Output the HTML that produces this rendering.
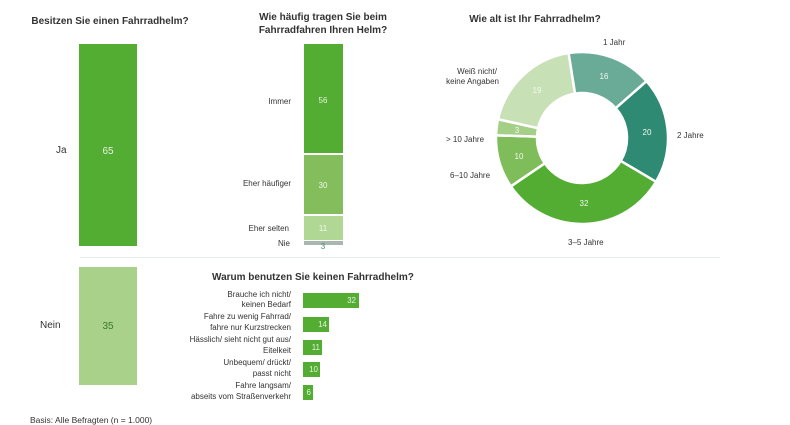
<!DOCTYPE html>
<html><head><meta charset="utf-8"><style>
body{margin:0;background:#fff}
svg{display:block;font-family:"Liberation Sans","DejaVu Sans",sans-serif}
</style></head><body>
<svg width="790" height="425" viewBox="0 0 790 425" xmlns="http://www.w3.org/2000/svg">
<g font-size="10" fill="#333" font-weight="bold">
<text x="110" y="24" text-anchor="middle">Besitzen Sie einen Fahrradhelm?</text>
<text x="323" y="20" text-anchor="middle">Wie häufig tragen Sie beim</text>
<text x="323" y="33" text-anchor="middle">Fahrradfahren Ihren Helm?</text>
<text x="535" y="22" text-anchor="middle">Wie alt ist Ihr Fahrradhelm?</text>
<text x="212" y="280">Warum benutzen Sie keinen Fahrradhelm?</text>
</g>
<line x1="80" y1="257.5" x2="720" y2="257.5" stroke="#e3efe8" stroke-width="1"/>
<rect x="79" y="44" width="58" height="202" fill="#52ad32"/>
<rect x="79" y="267" width="58" height="118" fill="#a9d18a"/>
<g font-size="10" fill="#333">
<text x="56" y="153">Ja</text>
<text x="40" y="328">Nein</text>
<text x="30" y="423" font-size="8.5">Basis: Alle Befragten (n = 1.000)</text>
</g>
<text x="108" y="154" font-size="10" fill="#e8f3e0" text-anchor="middle">65</text>
<text x="108" y="329" font-size="10" fill="#3c7a2a" text-anchor="middle">35</text>
<rect x="304" y="44" width="39" height="109" fill="#52ad32"/>
<rect x="304" y="155" width="39" height="59" fill="#84bd5c"/>
<rect x="304" y="216" width="39" height="24" fill="#b0d894"/>
<rect x="304" y="241" width="39" height="4" fill="#a8b8b0"/>
<g font-size="8" text-anchor="middle">
<text x="323" y="103" fill="#e8f3e0">56</text>
<text x="323" y="188" fill="#eef6e8">30</text>
<text x="323" y="231" fill="#f3f9ee">11</text>
<text x="323" y="249" fill="#4a8a7a">3</text>
</g>
<g font-size="8" fill="#333" text-anchor="end">
<text x="291" y="104">Immer</text>
<text x="291" y="186">Eher häufiger</text>
<text x="289" y="231">Eher selten</text>
<text x="290" y="246">Nie</text>
<text x="291" y="297">Brauche ich nicht/</text><text x="291" y="307">keinen Bedarf</text>
<text x="291" y="319">Fahre zu wenig Fahrrad/</text><text x="291" y="330">fahre nur Kurzstrecken</text>
<text x="291" y="342">Hässlich/ sieht nicht gut aus/</text><text x="291" y="353">Eitelkeit</text>
<text x="291" y="365">Unbequem/ drückt/</text><text x="291" y="376">passt nicht</text>
<text x="291" y="388">Fahre langsam/</text><text x="291" y="399">abseits vom Straßenverkehr</text>
</g>
<rect x="303" y="293" width="56" height="15" fill="#52ad32"/>
<rect x="303" y="317" width="26" height="15" fill="#52ad32"/>
<rect x="303" y="340" width="19" height="15" fill="#52ad32"/>
<rect x="303" y="362" width="17" height="15" fill="#52ad32"/>
<rect x="303" y="385" width="10" height="15" fill="#52ad32"/>
<g font-size="8" fill="#e8f3e0" text-anchor="end">
<text x="356" y="303">32</text><text x="327" y="327">14</text><text x="320" y="350">11</text><text x="318" y="372">10</text><text x="311" y="395">6</text>
</g>
<g stroke="#fff" stroke-width="2.5">
<path d="M568.55,53.06 A86 86 0 0 1 646.51,81.13 L615.75,108.24 A45 45 0 0 0 574.96,93.55Z" fill="#6aab97"/>
<path d="M646.51,81.13 A86 86 0 0 1 656.02,181.77 L620.73,160.91 A45 45 0 0 0 615.75,108.24Z" fill="#2e8a72"/>
<path d="M656.02,181.77 A86 86 0 0 1 510.87,186.34 L544.78,163.29 A45 45 0 0 0 620.73,160.91Z" fill="#52ad32"/>
<path d="M510.87,186.34 A86 86 0 0 1 496.04,135.30 L537.02,136.59 A45 45 0 0 0 544.78,163.29Z" fill="#7fbc5a"/>
<path d="M496.04,135.30 A86 86 0 0 1 498.07,119.24 L538.08,128.19 A45 45 0 0 0 537.02,136.59Z" fill="#a3cf86"/>
<path d="M498.07,119.24 A86 86 0 0 1 568.55,53.06 L574.96,93.55 A45 45 0 0 0 538.08,128.19Z" fill="#c8e0b5"/>
</g>
<g font-size="8" fill="#f2f8ee" text-anchor="middle">
<text x="604" y="79">16</text><text x="647" y="135">20</text><text x="584" y="206">32</text>
<text x="519" y="159">10</text><text x="517" y="133">3</text><text x="537" y="93">19</text>
</g>
<g font-size="8" fill="#333">
<text x="603" y="45">1 Jahr</text>
<text x="677" y="138">2 Jahre</text>
<text x="568" y="245">3–5 Jahre</text>
<text x="450" y="178">6–10 Jahre</text>
<text x="446" y="142">&gt; 10 Jahre</text>
<text x="497" y="74" text-anchor="end">Weiß nicht/</text>
<text x="499" y="84" text-anchor="end">keine Angaben</text>
</g>
</svg>
</body></html>
